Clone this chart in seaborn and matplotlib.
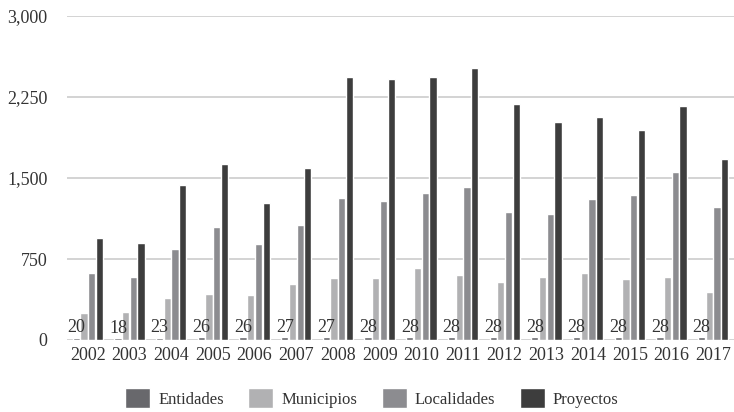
import pandas as pd
import seaborn as sns
import matplotlib.pyplot as plt

years = ['2002', '2003', '2004', '2005', '2006', '2007', '2008', '2009',
         '2010', '2011', '2012', '2013', '2014', '2015', '2016', '2017']
entidades = [20, 18, 23, 26, 26, 27, 27, 28, 28, 28, 28, 28, 28, 28, 28, 28]
municipios = [250, 259, 389, 426, 417, 519, 574, 574, 667, 602, 537, 583, 620, 565, 583, 444]
localidades = [620, 583, 843, 1046, 889, 1065, 1315, 1287, 1361, 1417, 1185, 1167, 1306, 1343, 1556, 1231]
proyectos = [944, 898, 1435, 1630, 1268, 1593, 2435, 2417, 2435, 2519, 2185, 2019, 2065, 1944, 2167, 1676]
series = ['Entidades', 'Municipios', 'Localidades', 'Proyectos']
colors = ['#68686c', '#b1b1b3', '#8c8c90', '#3d3d3d']

df = pd.DataFrame({'Año': years, 'Entidades': entidades, 'Municipios': municipios,
                   'Localidades': localidades, 'Proyectos': proyectos})
long = df.melt(id_vars='Año', var_name='Serie', value_name='Valor')

sns.set_style('white')
plt.rcParams['font.family'] = ['Liberation Serif', 'DejaVu Serif']

fig = plt.figure(figsize=(7.34, 4.12), dpi=100)
ax = fig.add_axes([67 / 734, 72 / 412, 667 / 734, 324 / 412])

sns.barplot(data=long, x='Año', y='Valor', hue='Serie', hue_order=series,
            palette=colors, width=0.74, gap=0.06, saturation=1, ax=ax)

ax.bar_label(ax.containers[0], labels=[str(v) for v in entidades],
             fontsize=13, color='#333333', padding=1)

ax.set_ylim(0, 3000)
ax.set_xlim(-0.5, len(years) - 0.5)
ax.set_yticks([0, 750, 1500, 2250, 3000])
ax.set_yticklabels(['0', '750', '1,500', '2,250', '3,000'])
ax.yaxis.grid(True, color='#d3d3d3', linewidth=1.4)
ax.set_axisbelow(True)
for s in ax.spines.values():
    s.set_visible(False)
ax.tick_params(axis='both', length=0, labelsize=13, colors='#333333')
ax.tick_params(axis='y', pad=14)
ax.tick_params(axis='x', pad=5)
ax.set_xlabel('')
ax.set_ylabel('')

ax.legend(loc='center', bbox_to_anchor=(0.457, -0.18), ncol=4, frameon=False,
          fontsize=12, handlelength=1.5, handleheight=1.5, columnspacing=1.45,
          handletextpad=0.5, labelcolor='#333333')

fig.savefig('out.png', dpi=100)
